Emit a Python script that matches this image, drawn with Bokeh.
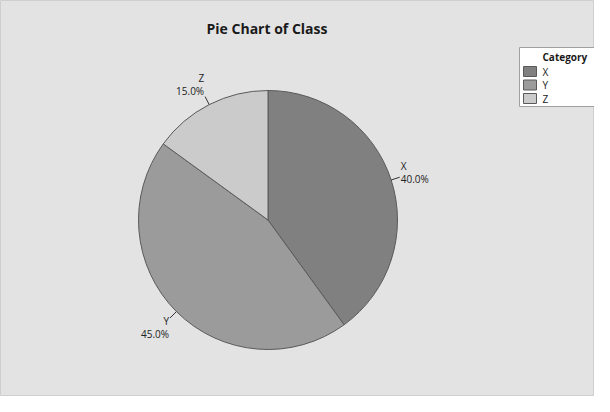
import numpy as np
from bokeh.plotting import figure
from bokeh.models import Range1d
from bokeh.core.properties import value
from bokeh.embed import file_html
from bokeh.resources import INLINE

# ---- data ----
categories = ["X", "Y", "Z"]
counts = [40, 45, 15]
colors = ["#808080", "#9b9b9b", "#cbcbcb"]
chart_title = "Pie Chart of Class"
legend_title = "Category"

FONT = "Open Sans"
W, H = 594, 396

p = figure(width=W, height=H, x_range=Range1d(0, W), y_range=Range1d(0, H),
           output_backend="svg", toolbar_location=None, min_border=0,
           x_axis_location=None, y_axis_location=None)
p.grid.visible = False
p.background_fill_color = "#e3e3e3"
p.border_fill_color = "#e3e3e3"
p.outline_line_color = "#cfcfcf"

# pie geometry (pixels in figure coords, y up)
cx, cy, R = 267.5, 176.5, 129.5

vals = np.array(counts, dtype=float)
frac = vals / vals.sum()
cum = np.cumsum(frac)
th2 = 2 * np.pi * cum
th1 = th2 - 2 * np.pi * frac
start = np.pi / 2 - th2
end = np.pi / 2 - th1

p.wedge(x=cx, y=cy, radius=R, start_angle=list(start), end_angle=list(end),
        fill_color=colors, line_color="#5a5a5a", line_width=1)

# labels with leader lines
mid = (th1 + th2) / 2
dx, dy = np.sin(mid), np.cos(mid)
x0, y0 = cx + R * dx, cy + R * dy
x1, y1 = cx + (R + 9) * dx, cy + (R + 9) * dy
p.segment(x0=list(x0), y0=list(y0), x1=list(x1), y1=list(y1),
          line_color="#333333", line_width=1)

for i, cat in enumerate(categories):
    pct = f"{frac[i] * 100:.1f}%"
    right = dx[i] > 0
    tx = x1[i] + (1 if right else -1)
    align = "left" if right else "right"
    cyb = y1[i] + dy[i] * 14
    p.text(x=[tx], y=[cyb + 6.5], text=[cat], text_align=align, text_baseline="middle",
           text_font=value(FONT), text_font_size="10px", text_color="#222222")
    p.text(x=[tx], y=[cyb - 6.5], text=[pct], text_align=align, text_baseline="middle",
           text_font=value(FONT), text_font_size="10px", text_color="#222222")

# title
p.text(x=[266.5], y=[368], text=[chart_title], text_align="center", text_baseline="middle",
       text_font=value(FONT), text_font_size="14px", text_font_style="bold", text_color="#1a1a1a")

# legend (manual)
p.rect(x=[557.5], y=[319.5], width=77, height=59, fill_color="white",
       line_color="#a0a0a0", line_width=1)
p.text(x=[542], y=[340], text=[legend_title], text_align="left", text_baseline="middle",
       text_font=value(FONT), text_font_size="10px", text_font_style="bold", text_color="#1a1a1a")
for i, cat in enumerate(categories):
    yy = 325 - 13.5 * i
    p.rect(x=[529.5], y=[yy], width=13, height=10, fill_color=colors[i],
           line_color="#5a5a5a", line_width=1)
    p.text(x=[542], y=[yy], text=[cat], text_align="left", text_baseline="middle",
           text_font=value(FONT), text_font_size="10px", text_color="#1a1a1a")

open("out.html", "w").write(file_html(p, INLINE))
